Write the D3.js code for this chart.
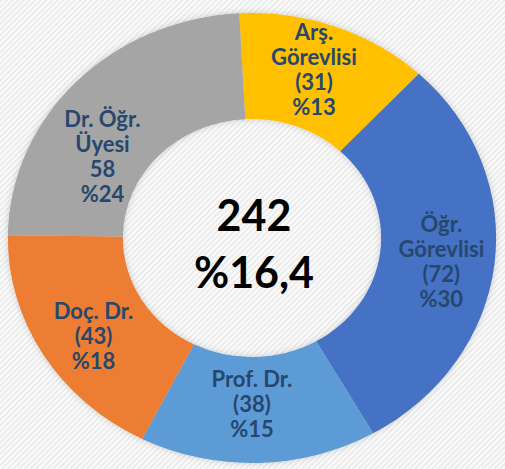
<!DOCTYPE html>
<html>
<head>
<meta charset="utf-8">
<script src="https://cdn.jsdelivr.net/npm/d3@7"></script>
<style>
  body { margin: 0; background: #fff; }
  svg { display: block; font-family: Lato, "Open Sans", sans-serif; }
</style>
</head>
<body>
<svg></svg>
<script>
// data
const categories = ['Arş. Görevlisi', 'Öğr. Görevlisi', 'Prof. Dr.', 'Doç. Dr.', 'Dr. Öğr. Üyesi'];
const values = [31, 72, 38, 43, 58];
const countLabels = ['(31)', '(72)', '(38)', '(43)', '58'];
const percentLabels = ['%13', '%30', '%15', '%18', '%24'];
const nameLines = [['Arş.', 'Görevlisi'], ['Öğr.', 'Görevlisi'], ['Prof. Dr.'], ['Doç. Dr.'], ['Dr. Öğr.', 'Üyesi']];
const centerLines = ['242', '%16,4'];

const size = {w: 505, h: 469};
const center = {x: 252, y: 238};
const rOuter = 225, rInner = 119, stretchX = 1.085;
const colors = ['#FFC000', '#4472C4', '#5B9BD5', '#ED7D31', '#A5A5A5'];
// small label nudges, like the excel data labels
const nudge = [[-2, -6], [4, 4], [-5, -5], [1, 9], [-15, 38]];

const svg = d3.select('svg')
    .attr('width', size.w)
    .attr('height', size.h);

const defs = svg.append('defs');
const pat = defs.append('pattern')
    .attr('id', 'stripes')
    .attr('width', 4).attr('height', 4)
    .attr('patternUnits', 'userSpaceOnUse')
    .attr('patternTransform', 'rotate(45)');
pat.append('rect').attr('width', 4).attr('height', 4).attr('fill', '#fbfbfb');
pat.append('rect').attr('width', 2).attr('height', 4).attr('fill', '#ebebeb');

const shadow = defs.append('filter').attr('id', 'shadow')
    .attr('x', '-10%').attr('y', '-10%').attr('width', '120%').attr('height', '120%');
shadow.append('feDropShadow')
    .attr('dx', 0).attr('dy', 0).attr('stdDeviation', 3)
    .attr('flood-color', '#000').attr('flood-opacity', 0.18);

svg.append('rect')
    .attr('width', size.w).attr('height', size.h)
    .attr('fill', 'url(#stripes)');

const startA = -3 * Math.PI / 180;
const pie = d3.pie().sort(null)
    .startAngle(startA)
    .endAngle(startA + 2 * Math.PI);
const arcs = pie(values);

const arc = d3.arc().innerRadius(rInner).outerRadius(rOuter);
const midArc = d3.arc().innerRadius((rInner + rOuter) / 2).outerRadius((rInner + rOuter) / 2);

const ring = svg.append('g')
    .attr('transform', `translate(${center.x},${center.y}) scale(${stretchX},1)`)
    .attr('filter', 'url(#shadow)');

ring.selectAll('path')
    .data(arcs)
    .join('path')
    .attr('d', arc)
    .attr('fill', (d, i) => colors[i]);

// labels
const lineH = 25, capH = 15;
const labels = svg.append('g')
    .attr('font-size', 22)
    .attr('font-weight', 700)
    .attr('fill', '#27476D')
    .attr('text-anchor', 'middle');

arcs.forEach((d, i) => {
    const c = midArc.centroid(d);
    const x = center.x + c[0] * stretchX + nudge[i][0];
    const cy = center.y + c[1] + nudge[i][1];
    const lines = nameLines[i].concat([countLabels[i], percentLabels[i]]);
    const y0 = cy - (lines.length - 1) * lineH / 2 + capH / 2;
    const t = labels.append('text');
    lines.forEach((l, j) => {
        t.append('tspan').attr('x', x).attr('y', y0 + j * lineH).text(l);
    });
});

// center total
svg.append('g')
    .attr('text-anchor', 'middle')
    .attr('font-weight', 700)
    .attr('font-size', 43)
    .attr('fill', '#000')
    .selectAll('text')
    .data(centerLines)
    .join('text')
    .attr('x', center.x + 2)
    .attr('y', (d, i) => 231 + i * 57)
    .text(d => d);
</script>
</body>
</html>
